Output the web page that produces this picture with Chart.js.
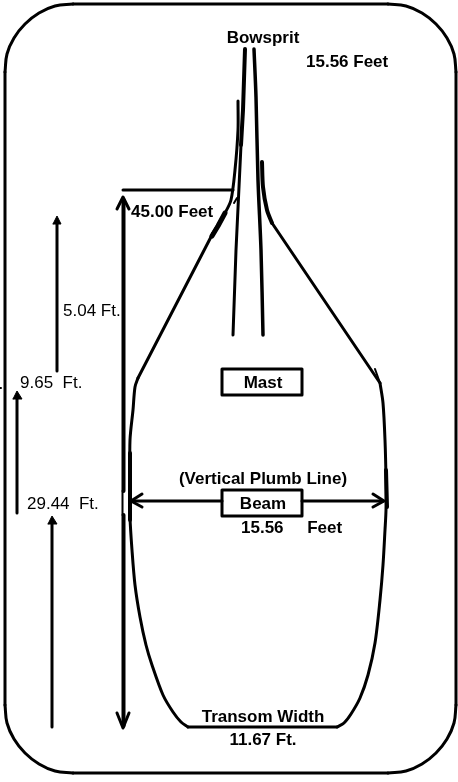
<!DOCTYPE html>
<html>
<head>
<meta charset="utf-8">
<title>Hull plan</title>
<style>
  html, body { margin: 0; padding: 0; background: #fff; }
  canvas { display: block; }
</style>
<script src="https://cdn.jsdelivr.net/npm/chart.js@4"></script>
</head>
<body>
<canvas id="chart" width="458" height="782"></canvas>
<script>
// rounded frame around the drawing
const frameCornerTL = [[5,72],[7,54],[14,38],[25,24],[39,13],[55,6],[73,4]];
const frameTop = [[73,4],[388,4]];
const frameCornerTR = [[388,4],[406,6],[422,13],[436,24],[447,38],[454,54],[456,72]];
const frameRight = [[456,72],[456,705]];
const frameCornerBR = [[456,705],[454,723],[447,739],[436,753],[422,764],[406,771],[388,773]];
const frameBottom = [[388,773],[73,773]];
const frameCornerBL = [[73,773],[55,771],[39,764],[25,753],[14,739],[7,723],[5,705]];
const frameLeft = [[5,705],[5,72]];
const strayDot = [[0,388],[1,388]];

// bowsprit and mast guide lines
const bowspritLeftThick = [[245,49],[243,110],[241,145]];
const bowspritLeftThin = [[241,145],[236,250],[233,335]];
const bowspritRight = [[254,49],[256,97],[258,180],[261,250],[263,335]];

// hull outline
const hullLeftBow = [[238,101],[238,130],[235,170],[231,200],[225,213],[213,233]];
const hullLeftBowThick = [[225,213],[218,226],[212,236]];
const hullLeftShoulder = [[213,233],[138,378]];
const hullLeftSide = [[138,378],[135,387],[133,410],[130,440],[130,480],[130,517],[132,550],[135,585],[140,617],[146,645],[152,665],[163,695],[173,712],[181,722],[188,727]];
const hullLeftBeamThick = [[130,453],[130,520]];
const hullLeftTick = [[237,198],[234,203]];
const transom = [[188,727],[337,727]];
const hullRightBow = [[262,162],[263,187],[267,210],[272,223]];
const hullRightShoulder = [[272,223],[380,383]];
const hullRightTick = [[375,369],[380,383]];
const hullRightSide = [[380,383],[383,403],[385,440],[386,480],[386,510],[385,530],[383,565],[380,600],[375,643],[368,675],[360,698],[351,714],[344,723],[337,727]];
const hullRightBeamThick = [[386,470],[387,507]];

// dimension lines
const lengthTopRule = [[123,190],[233,190]];
const lengthShaftUpper = [[123.5,200],[123.5,491]];
const lengthShaftNotch = [[122.5,491],[122.5,515]];
const lengthShaftLower = [[123.5,515],[123.5,726]];
const lengthHeadTop = [[117,209],[123,197],[129,209]];
const lengthHeadBottom = [[117,713],[123,728],[129,713]];
const beamLeft = [[131,501],[222,501]];
const beamRight = [[302,501],[383,501]];
const beamHeadLeft = [[142,494],[131,501],[142,507]];
const beamHeadRight = [[373,494],[384,501],[373,507]];

// station arrows on the left
const arrow504 = [[57,371],[57,222]];
const arrow504Head = [[53,224],[57,216],[61,224],[53,224]];
const arrow965 = [[17,513],[17,397]];
const arrow965Head = [[13,399],[17,391],[22,399],[13,399]];
const arrow2944 = [[52,727],[52,522]];
const arrow2944Head = [[48,524],[52,516],[57,524],[48,524]];

// label boxes
const mastBox = [[222,369],[302,369],[302,395],[222,395],[222,369]];
const beamBox = [[222,490],[302,490],[302,516],[222,516],[222,490]];

const labelTexts = ["Bowsprit","15.56 Feet","45.00 Feet","5.04 Ft.","9.65  Ft.","29.44  Ft.","Mast","(Vertical Plumb Line)","Beam","15.56     Feet","Transom Width","11.67 Ft."];
const labelX = [263,306,131,63,20,27,263,263,263,241,263,263];
const labelY = [38,62,212,311,383,504,383,479,504,528,717,740];
const labelBold = [true,true,true,false,false,false,true,true,true,true,true,true];
const labelCenter = [true,false,false,false,false,false,true,true,true,false,true,true];

function line(points, width, tension, filled) {
  return {
    data: points.map(p => ({ x: p[0], y: p[1] })),
    showLine: true,
    borderColor: '#000',
    backgroundColor: '#000',
    borderWidth: width,
    tension: tension || 0,
    fill: filled ? 'shape' : false,
    pointRadius: 0,
    borderCapStyle: 'round',
    borderJoinStyle: 'round'
  };
}

const labelPlugin = {
  id: 'labels',
  afterDatasetsDraw(chart) {
    const ctx = chart.ctx;
    const xs = chart.scales.x;
    const ys = chart.scales.y;
    ctx.save();
    ctx.fillStyle = '#000';
    ctx.textBaseline = 'middle';
    labelTexts.forEach((text, i) => {
      ctx.font = (labelBold[i] ? 'bold ' : '') + '17px "Liberation Sans"';
      ctx.textAlign = labelCenter[i] ? 'center' : 'left';
      ctx.fillText(text, xs.getPixelForValue(labelX[i]), ys.getPixelForValue(labelY[i]));
    });
    ctx.restore();
  }
};

new Chart(document.getElementById('chart'), {
  type: 'scatter',
  data: {
    datasets: [
      line(frameCornerTL, 3, 0.4), line(frameTop, 3), line(frameCornerTR, 3, 0.4), line(frameRight, 3),
      line(frameCornerBR, 3, 0.4), line(frameBottom, 3), line(frameCornerBL, 3, 0.4), line(frameLeft, 3),
      line(strayDot, 2),
      line(bowspritLeftThick, 4), line(bowspritLeftThin, 3), line(bowspritRight, 3.5, 0.3),
      line(hullLeftBow, 3, 0.3), line(hullLeftBowThick, 5), line(hullLeftShoulder, 3),
      line(hullLeftSide, 3, 0.3), line(hullLeftBeamThick, 4), line(hullLeftTick, 2),
      line(transom, 3),
      line(hullRightBow, 4, 0.3), line(hullRightShoulder, 3), line(hullRightTick, 2),
      line(hullRightSide, 3, 0.3), line(hullRightBeamThick, 4),
      line(lengthTopRule, 3), line(lengthShaftUpper, 4), line(lengthShaftNotch, 2), line(lengthShaftLower, 4),
      line(lengthHeadTop, 3), line(lengthHeadBottom, 3),
      line(beamLeft, 3), line(beamRight, 3), line(beamHeadLeft, 3), line(beamHeadRight, 3),
      line(arrow504, 3), line(arrow504Head, 1, 0, true),
      line(arrow965, 3), line(arrow965Head, 1, 0, true),
      line(arrow2944, 3), line(arrow2944Head, 1, 0, true),
      line(mastBox, 3), line(beamBox, 3)
    ]
  },
  options: {
    responsive: false,
    animation: false,
    layout: { padding: 0 },
    plugins: { legend: { display: false }, tooltip: { enabled: false } },
    scales: {
      x: { display: false, min: 0, max: 458 },
      y: { display: false, min: 0, max: 782, reverse: true }
    }
  },
  plugins: [labelPlugin]
});
</script>
</body>
</html>
